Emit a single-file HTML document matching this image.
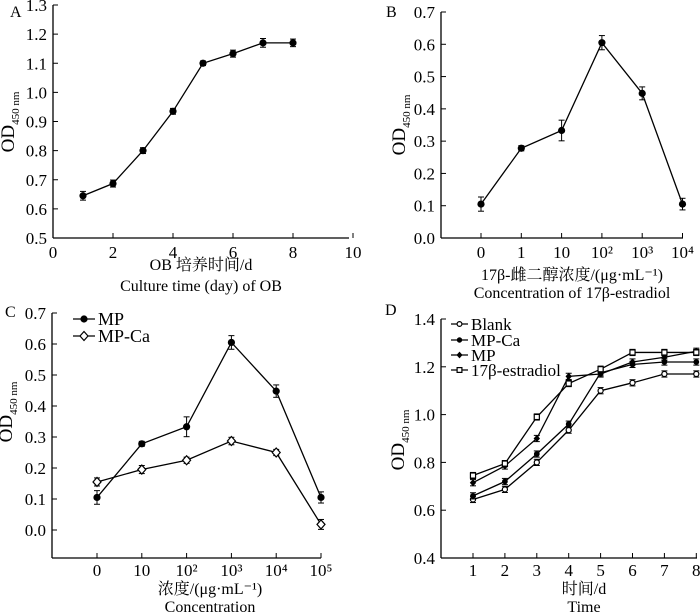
<!DOCTYPE html>
<html><head><meta charset="utf-8"><style>
body{margin:0;background:#fff;}
svg{display:block;font-family:"Liberation Serif","Noto Serif CJK SC",serif;}
</style></head><body>
<svg id="c" width="700" height="615" viewBox="0 0 700 615"></svg>
<script>
// Panel A
const aX=[1,2,3,4,5,6,7,8];
const aY=[0.645,0.687,0.80,0.935,1.10,1.133,1.17,1.17];
const aE=[0.015,0.012,0.01,0.01,0.008,0.012,0.015,0.013];
const aYTicks=[0.5,0.6,0.7,0.8,0.9,1.0,1.1,1.2,1.3];
const aXTicks=[0,2,4,6,8,10];
// Panel B
const bCats=["0","1","10","10²","10³","10⁴"];
const bY=[0.105,0.278,0.333,0.605,0.448,0.105];
const bE=[0.022,0.008,0.032,0.022,0.02,0.018];
const bYTicks=[0.0,0.1,0.2,0.3,0.4,0.5,0.6,0.7];
// Panel C
const cCats=["0","10","10²","10³","10⁴","10⁵"];
const cMP=[0.105,0.278,0.333,0.605,0.448,0.105];
const cMPe=[0.022,0.008,0.032,0.022,0.02,0.018];
const cCa=[0.155,0.195,0.225,0.287,0.25,0.018];
const cCae=[0.013,0.013,0.01,0.012,0.01,0.016];
const cYTicks=[0.0,0.1,0.2,0.3,0.4,0.5,0.6,0.7];
// Panel D
const dX=[1,2,3,4,5,6,7,8];
const dBlank=[0.645,0.687,0.80,0.935,1.10,1.133,1.17,1.17];
const dMPCa=[0.66,0.72,0.835,0.96,1.175,1.21,1.22,1.22];
const dMP=[0.715,0.785,0.90,1.16,1.17,1.22,1.24,1.265];
const dE2=[0.745,0.795,0.99,1.13,1.19,1.26,1.26,1.26];
const dErr=0.013;
const dYTicks=[0.4,0.6,0.8,1.0,1.2,1.4];

const svg=document.getElementById('c');
const NS='http://www.w3.org/2000/svg';
function el(tag,attrs,parent){const e=document.createElementNS(NS,tag);for(const k in attrs)e.setAttribute(k,attrs[k]);(parent||svg).appendChild(e);return e;}
function txt(x,y,s,size,anchor,parent){const t=el('text',{x:x,y:y,'font-size':size,'text-anchor':anchor||'middle',fill:'#000'},parent);t.textContent=s;return t;}
function grp(name){const g=el('g',{});return g;}

function axes(g,x0,x1,y0,y1,yTicks,ys,fmt,xTicks,xs,xLabels,tickY){
  el('line',{x1:x0,y1:y0,x2:x0,y2:y1,stroke:'#000','stroke-width':1.3},g);
  el('line',{x1:x0,y1:y1,x2:x1,y2:y1,stroke:'#000','stroke-width':1.3},g);
  yTicks.forEach(v=>{const y=ys(v);el('line',{x1:x0,y1:y,x2:x0+5,y2:y,stroke:'#000'},g);const t=txt(x0-6,y+6,v.toFixed(fmt),17,'end',g);});
  xTicks.forEach((v,i)=>{const x=xs(v);el('line',{x1:x,y1:y1,x2:x,y2:y1-5,stroke:'#000'},g);const t=txt(x,tickY,xLabels[i],17,'middle',g);});
}
function series(g,xs,ys,X,Y,E,marker,sc){
  const pts=X.map((x,i)=>xs(x)+','+ys(Y[i])).join(' ');
  el('polyline',{points:pts,fill:'none',stroke:'#000','stroke-width':1.3},g);
  X.forEach((x,i)=>{const px=xs(x),py=ys(Y[i]);
    const t=ys(Y[i]+E[i]),b=ys(Y[i]-E[i]);
    el('line',{x1:px,y1:t,x2:px,y2:b,stroke:'#000'},g);
    el('line',{x1:px-3,y1:t,x2:px+3,y2:t,stroke:'#000'},g);
    el('line',{x1:px-3,y1:b,x2:px+3,y2:b,stroke:'#000'},g);
    drawMarker(g,marker,px,py,sc||1);});
}
function drawMarker(g,m,x,y,s){
  s=s||1;let e;
  if(m==='fc')e=el('circle',{cx:x,cy:y,r:3.6*s,fill:'#000'},g);
  else if(m==='oc')e=el('circle',{cx:x,cy:y,r:3.2*s,fill:'#fff',stroke:'#000','stroke-width':1.2},g);
  else if(m==='fd')e=el('polygon',{points:`${x},${y-4.5*s} ${x+4*s},${y} ${x},${y+4.5*s} ${x-4*s},${y}`,fill:'#000'},g);
  else if(m==='od')e=el('polygon',{points:`${x},${y-4.5*s} ${x+4*s},${y} ${x},${y+4.5*s} ${x-4*s},${y}`,fill:'#fff',stroke:'#000','stroke-width':1.2},g);
  else if(m==='os')e=el('rect',{x:x-3.2*s,y:y-3.2*s,width:6.4*s,height:6.4*s,fill:'#fff',stroke:'#000','stroke-width':1.2},g);
  
}
function ylabel(g,x,y){const t=el('text',{transform:`translate(${x},${y}) rotate(-90)`,'font-size':19,'text-anchor':'middle'},g);
  t.innerHTML='OD<tspan font-size="11" dy="5">450 nm</tspan>';}
function legend(g,x,y,m,label,size,w,s){w=w||22;el('line',{x1:x,y1:y,x2:x+w,y2:y,stroke:'#000','stroke-width':1.3},g);drawMarker(g,m,x+w/2,y,s||1);const t=txt(x+w+3,y+6,label,size,'start',g);}

// A
{const g=grp('panel-a');const xs=v=>53+v*30, ys=v=>238-(v-0.5)/0.8*233;
 axes(g,53,349,5,238,aYTicks,ys,1,aXTicks,xs,aXTicks.map(String),258);
 series(g,xs,ys,aX,aY,aE,'fc');
 txt(10,17,'A',16,'start',g);ylabel(g,14,122);
 txt(201,270,'OB 培养时间/d',16,'middle',g);txt(201,291,'Culture time (day) of OB',16,'middle',g);}
// B
{const g=grp('panel-b');const xs=i=>481+i*40.3, ys=v=>238-v/0.7*226;
 axes(g,441,683,12,238,bYTicks,ys,1,[0,1,2,3,4,5],xs,bCats,258);
 series(g,xs,ys,[0,1,2,3,4,5],bY,bE,'fc');
 txt(386,17,'B',16,'start',g);ylabel(g,405,125);
 txt(572,280,'17β-雌二醇浓度/(μg·mL⁻¹)',16,'middle',g);txt(572,298,'Concentration of 17β-estradiol',16,'middle',g);}
// C
{const g=grp('panel-c');const xs=i=>97+i*44.8, ys=v=>530-v*310;
 axes(g,52,321,313,558,cYTicks,ys,1,[0,1,2,3,4,5],xs,cCats,576);
 series(g,xs,ys,[0,1,2,3,4,5],cMP,cMPe,'fc');
 series(g,xs,ys,[0,1,2,3,4,5],cCa,cCae,'od');
 txt(5,317,'C',16,'start',g);ylabel(g,12,412);
 legend(g,73,319,'fc','MP',18);legend(g,73,336,'od','MP-Ca',18);
 txt(210,594,'浓度/(μg·mL⁻¹)',16,'middle',g);txt(210,612,'Concentration',16,'middle',g);}
// D
{const g=grp('panel-d');const xs=v=>473+(v-1)*31.9, ys=v=>558-(v-0.4)*239;
 axes(g,441,697,319,558,dYTicks,ys,1,dX,xs,dX.map(String),576);
 const E=dX.map(()=>dErr);
 series(g,xs,ys,dX,dBlank,E,'oc',0.8);series(g,xs,ys,dX,dMPCa,E,'fc',0.8);series(g,xs,ys,dX,dMP,E,'fd',0.8);series(g,xs,ys,dX,dE2,E,'os',0.8);
 txt(385,315,'D',16,'start',g);ylabel(g,404,440);
 legend(g,451,324,'oc','Blank',17,17,0.75);legend(g,451,340,'fc','MP-Ca',17,17,0.75);legend(g,451,355,'fd','MP',17,17,0.75);legend(g,451,370,'os','17β-estradiol',17,17,0.75);
 txt(584,594,'时间/d',16,'middle',g);txt(584,612,'Time',16,'middle',g);}
</script>
</body></html>
